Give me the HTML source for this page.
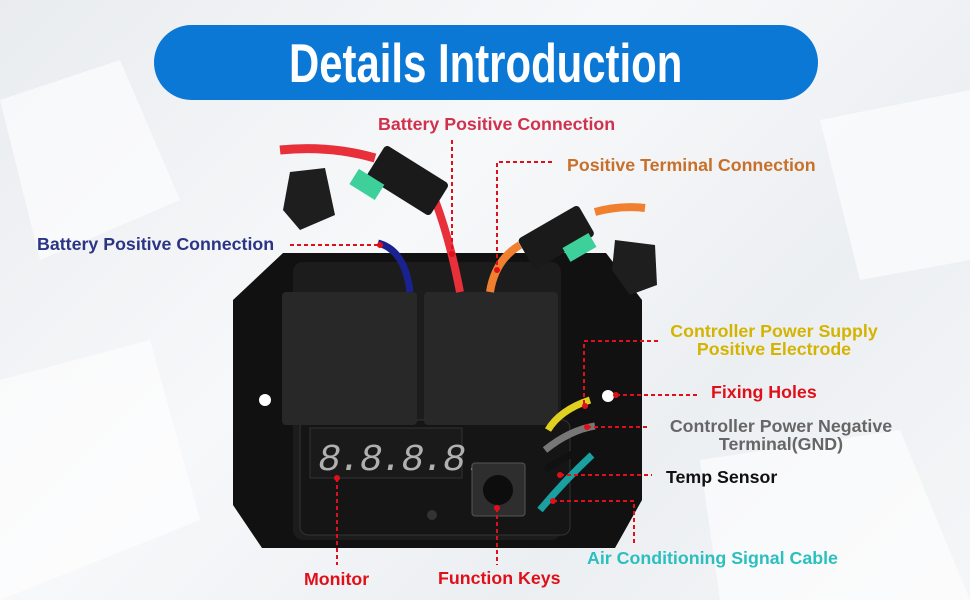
<!DOCTYPE html>
<html><head><meta charset="utf-8"><style>
body{margin:0;}
#c{position:relative;width:970px;height:600px;overflow:hidden;background:linear-gradient(135deg,#e9ecef,#f7f8fa 40%,#eceff2 70%,#f5f6f8);font-family:"Liberation Sans",sans-serif;}
.t{position:absolute;font-weight:bold;font-size:17.8px;white-space:nowrap;line-height:18px;}
#pill{position:absolute;left:154px;top:25px;width:664px;height:75px;border-radius:38px;background:#0b78d6;}
#title{position:absolute;left:289px;top:33px;width:393px;height:60px;color:#fff;font-family:"Liberation Sans Narrow","Liberation Sans",sans-serif;font-weight:bold;font-size:55px;line-height:60px;white-space:nowrap;transform-origin:0 0;}
svg{position:absolute;left:0;top:0;}
</style></head><body><div id="c">
<svg width="970" height="600">
<g fill="#fff" opacity="0.6">
<polygon points="0,100 120,60 180,200 40,260"/><polygon points="820,120 970,90 970,260 860,280"/>
<polygon points="0,380 150,340 200,520 0,600"/><polygon points="700,460 900,430 970,600 720,600"/>
</g>
<polygon points="283,253 606,253 642,300 642,500 615,548 262,548 233,505 233,300" fill="#111"/>
<rect x="293" y="262" width="268" height="278" rx="10" fill="#1c1c1c"/>
<rect x="300" y="420" width="270" height="115" rx="8" fill="#151515" stroke="#333"/>
<circle cx="265" cy="400" r="6" fill="#fff"/><circle cx="608" cy="396" r="6" fill="#fff"/>
<rect x="282" y="292" width="135" height="133" rx="4" fill="#282828"/>
<rect x="424" y="292" width="134" height="133" rx="4" fill="#282828"/>
<rect x="310" y="428" width="152" height="50" fill="#1a1a1a" stroke="#333"/>
<text x="318" y="470" font-family="Liberation Mono" font-size="38" fill="#b0b0b0" letter-spacing="-2" font-style="italic">8.8.8.8.</text>
<rect x="472" y="463" width="53" height="53" rx="3" fill="#2e2e2e" stroke="#555"/>
<circle cx="498" cy="490" r="15" fill="#0d0d0d"/>
<circle cx="432" cy="515" r="5" fill="#333"/>
<path d="M280,150 Q330,145 375,158" stroke="#e8303a" stroke-width="9" fill="none"/>
<path d="M435,200 Q450,240 460,292" stroke="#e8303a" stroke-width="8" fill="none"/>
<path d="M378,243 Q405,250 410,292" stroke="#1a2290" stroke-width="7" fill="none"/>
<path d="M490,292 Q495,260 520,245" stroke="#f08030" stroke-width="8" fill="none"/>
<path d="M595,212 Q620,205 645,208" stroke="#f08030" stroke-width="8" fill="none"/>
<path d="M548,430 Q560,410 590,400" stroke="#e0d020" stroke-width="7" fill="none"/>
<path d="M545,450 Q570,430 595,426" stroke="#777" stroke-width="7" fill="none"/>
<path d="M545,470 Q575,450 595,445" stroke="#111" stroke-width="7" fill="none"/>
<path d="M540,510 Q565,480 592,455" stroke="#1aa0a0" stroke-width="7" fill="none"/>
<g transform="rotate(32 405 180)"><rect x="370" y="160" width="75" height="38" rx="4" fill="#1a1a1a"/><rect x="360" y="195" width="30" height="18" fill="#3ed09a"/></g>
<polygon points="290,172 325,168 335,215 300,230 283,210" fill="#1e1e1e"/>
<g transform="rotate(-30 555 235)"><rect x="520" y="220" width="70" height="35" rx="4" fill="#1a1a1a"/><rect x="555" y="250" width="30" height="16" fill="#3ed09a"/></g>
<polygon points="615,240 655,245 657,285 630,295 612,270" fill="#1e1e1e"/>
<g stroke="#e0101a" stroke-width="2" stroke-dasharray="4,3" fill="none">
<path d="M452,140 V255"/><path d="M552,162 H497 V270"/><path d="M290,245 H380"/>
<path d="M658,341 H584 V406"/><path d="M616,395 H697"/><path d="M587,427 H650"/>
<path d="M560,475 H652"/><path d="M553,501 H634 V545"/><path d="M337,478 V565"/><path d="M497,508 V565"/>
</g>
<g fill="#e0101a"><circle cx="452" cy="254" r="3"/><circle cx="497" cy="270" r="3"/><circle cx="380" cy="245" r="3"/><circle cx="585" cy="406" r="3"/><circle cx="616" cy="395" r="3"/><circle cx="587" cy="427" r="3"/><circle cx="560" cy="475" r="3"/><circle cx="553" cy="501" r="3"/><circle cx="337" cy="478" r="3"/><circle cx="497" cy="508" r="3"/></g>
</svg>
<div id="pill"></div>
<div id="title">Details Introduction</div>
<div class="t" style="left:378px;top:115px;color:#d0324e">Battery Positive Connection</div>
<div class="t" style="left:567px;top:156px;color:#c8702a">Positive Terminal Connection</div>
<div class="t" style="left:37px;top:235px;color:#2b3485">Battery Positive Connection</div>
<div class="t" style="left:654px;top:322px;width:240px;text-align:center;color:#d4b400">Controller Power Supply<br>Positive Electrode</div>
<div class="t" style="left:711px;top:383px;color:#e0101a">Fixing Holes</div>
<div class="t" style="left:654px;top:417px;width:254px;text-align:center;color:#666">Controller Power Negative<br>Terminal(GND)</div>
<div class="t" style="left:666px;top:468px;color:#111">Temp Sensor</div>
<div class="t" style="left:587px;top:549px;color:#2bbfbf">Air Conditioning Signal Cable</div>
<div class="t" style="left:304px;top:570px;color:#e0101a">Monitor</div>
<div class="t" style="left:438px;top:569px;color:#e0101a">Function Keys</div>
</div>
<script>
var t=document.getElementById('title');t.style.transform='scaleX('+(393/t.scrollWidth)+')';
</script>
</body></html>
